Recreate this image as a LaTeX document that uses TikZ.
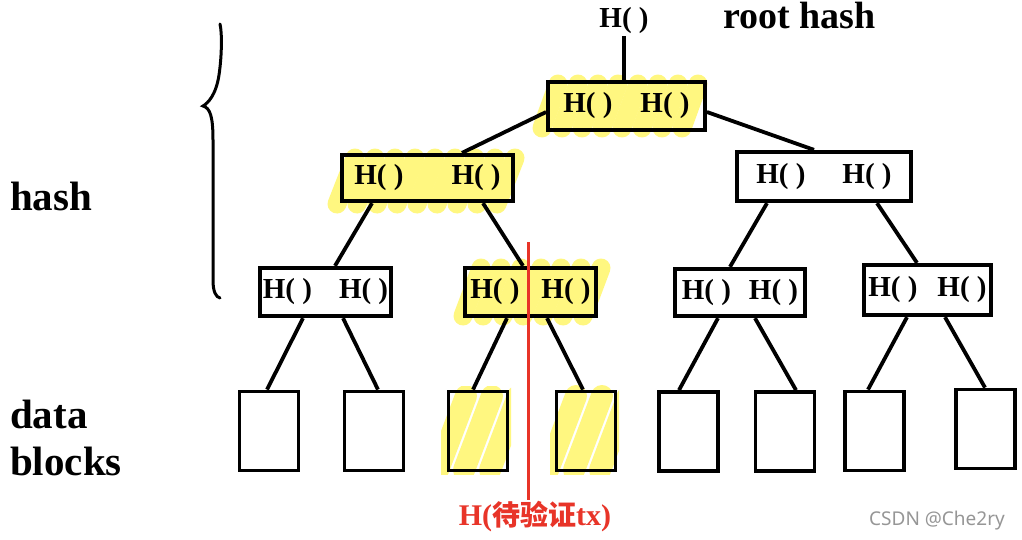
\documentclass[tikz,border=0pt]{standalone}
\usepackage{fontspec}
\setmainfont{Liberation Serif}
\newfontfamily\cjk{Noto Sans CJK SC}
\newfontfamily\wmfont{Noto Sans}
\definecolor{hly}{RGB}{255,247,128}
\definecolor{redv}{RGB}{232,52,40}
\definecolor{wmgray}{RGB}{150,150,150}
\newcommand\Hx{H( )}
\begin{document}
\begin{tikzpicture}[x=1pt,y=-1pt,
  hbox/.style={draw, line width=3.8pt, inner sep=0pt, font=\fontsize{29}{31}\selectfont\bfseries},
  dblock/.style={draw, line width=3.8pt, minimum width=59pt, minimum height=79pt, inner sep=0pt},
  link/.style={line width=3.8pt},
  hl/.style={hly, line width=19pt, line cap=round},
  big/.style={font=\fontsize{41}{44}\selectfont\bfseries, inner sep=0pt},
]
\fill[white] (0,0) rectangle (1022,539);
\useasboundingbox (0,0) rectangle (1022,539);

% yellow highlighter strokes
\foreach \x in {550,570,...,702} \draw[hl] (\x-8,128) -- (\x+8,84);
\foreach \x in {346,366,...,514} \draw[hl] (\x-9,204) -- (\x+9,158);
\foreach \x in {472,492,...,594} \draw[hl] (\x-9,316) -- (\x+9,268);
\begin{scope}
  \clip (441,386) rectangle (511,474);
  \foreach \x in {452,478,504} \draw[hl, line width=22pt] (\x-14,470) -- (\x+14,396);
\end{scope}
\begin{scope}
  \clip (550,384) rectangle (619,474);
  \foreach \x in {562,588,614} \draw[hl, line width=22pt] (\x-14,470) -- (\x+14,396);
\end{scope}

% brace
\draw[line width=3pt, line cap=round]
  (220,24) .. controls (222,32) and (222,55) .. (219,75)
  .. controls (216,95) and (208,103) .. (203,106)
  .. controls (210,108) and (213,116) .. (213,140)
  -- (213,280) .. controls (213,292) and (216,297) .. (220,298);

% labels
\node[big, anchor=base west] (lhash) at (10,210) {hash};
\node[big, anchor=base west] (ldata) at (10,428) {data};
\node[big, anchor=base west] (lblocks) at (10,475) {blocks};
\node[font=\fontsize{38}{42}\selectfont\bfseries, inner sep=0pt, anchor=base west] (lroot) at (723,28) {root hash};

% tree nodes
\node[font=\fontsize{29}{31}\selectfont\bfseries, inner sep=2pt] (hr) at (624,21) {\Hx};
\node[hbox, minimum width=157pt, minimum height=48.5pt] (root) at (626.5,106) {\Hx\hspace{28pt}\Hx};
\node[hbox, minimum width=171.5pt, minimum height=46.5pt] (l2a) at (427.5,178) {\Hx\hspace{48pt}\Hx\hspace{14pt}};
\node[hbox, minimum width=174.5pt, minimum height=49.5pt] (l2b) at (824,176.5) {\Hx\hspace{37pt}\Hx\hspace{9pt}};
\node[hbox, minimum width=131.5pt, minimum height=48.5pt] (l3a) at (325.5,292) {\Hx\hspace{27pt}\Hx};
\node[hbox, minimum width=131.5pt, minimum height=48.5pt] (l3b) at (530.5,292) {\Hx\hspace{22pt}\Hx};
\node[hbox, minimum width=130.5pt, minimum height=47.5pt] (l3c) at (740,292.5) {\Hx\hspace{18pt}\Hx};
\node[hbox, minimum width=127.5pt, minimum height=50.5pt] (l3d) at (927.5,290) {\Hx\hspace{20pt}\Hx};

\node[dblock] (d1) at (269,431) {};
\node[dblock] (d2) at (374,431) {};
\node[dblock] (d3) at (478,431) {};
\node[dblock] (d4) at (586,431) {};
\node[dblock] (d5) at (688.5,431.5) {};
\node[dblock] (d6) at (785,431.5) {};
\node[dblock] (d7) at (874.5,431) {};
\node[dblock] (d8) at (985.5,429) {};

% connectors
\draw[link] (hr.south) -- (root.north -| hr.south);
\draw[link] ([yshift=-6pt]root.west) -- ([xshift=34.5pt]l2a.north);
\draw[link] ([yshift=-6pt]root.east) -- ([xshift=-10pt]l2b.north);
\draw[link] ([xshift=-55.5pt]l2a.south) -- ([xshift=9.5pt]l3a.north);
\draw[link] ([xshift=55.5pt]l2a.south) -- ([xshift=-7.5pt]l3b.north);
\draw[link] ([xshift=-57pt]l2b.south) -- ([xshift=-10pt]l3c.north);
\draw[link] ([xshift=53pt]l2b.south) -- ([xshift=-10.5pt]l3d.north);
\draw[link] ([xshift=-22.5pt]l3a.south) -- ([xshift=-2pt]d1.north);
\draw[link] ([xshift=17.5pt]l3a.south) -- ([xshift=4pt]d2.north);
\draw[link] ([xshift=-23.5pt]l3b.south) -- ([xshift=-5pt]d3.north);
\draw[link] ([xshift=16.5pt]l3b.south) -- ([xshift=-3pt]d4.north);
\draw[link] ([xshift=-22pt]l3c.south) -- ([xshift=-9.5pt]d5.north);
\draw[link] ([xshift=15pt]l3c.south) -- ([xshift=11pt]d6.north);
\draw[link] ([xshift=-20.5pt]l3d.south) -- ([xshift=-6.5pt]d7.north);
\draw[link] ([xshift=17.5pt]l3d.south) -- ([xshift=-0.5pt]d8.north);

% red marker
\coordinate (rtop) at (528,242);
\coordinate (rbot) at (528,500);
\draw[redv, line width=3pt] (rtop) -- (rbot);
\node[text=redv, font=\fontsize{30}{32}\selectfont\bfseries, inner sep=0pt] (rlabel) at (535,517)
  {H({\cjk\fontsize{28}{30}\selectfont 待验证}tx)};

% watermark
\node[text=wmgray, font=\wmfont\fontsize{19}{21}\selectfont, anchor=base west, inner sep=0pt] (wm) at (869,525) {CSDN @Che2ry};
\end{tikzpicture}
\end{document}
